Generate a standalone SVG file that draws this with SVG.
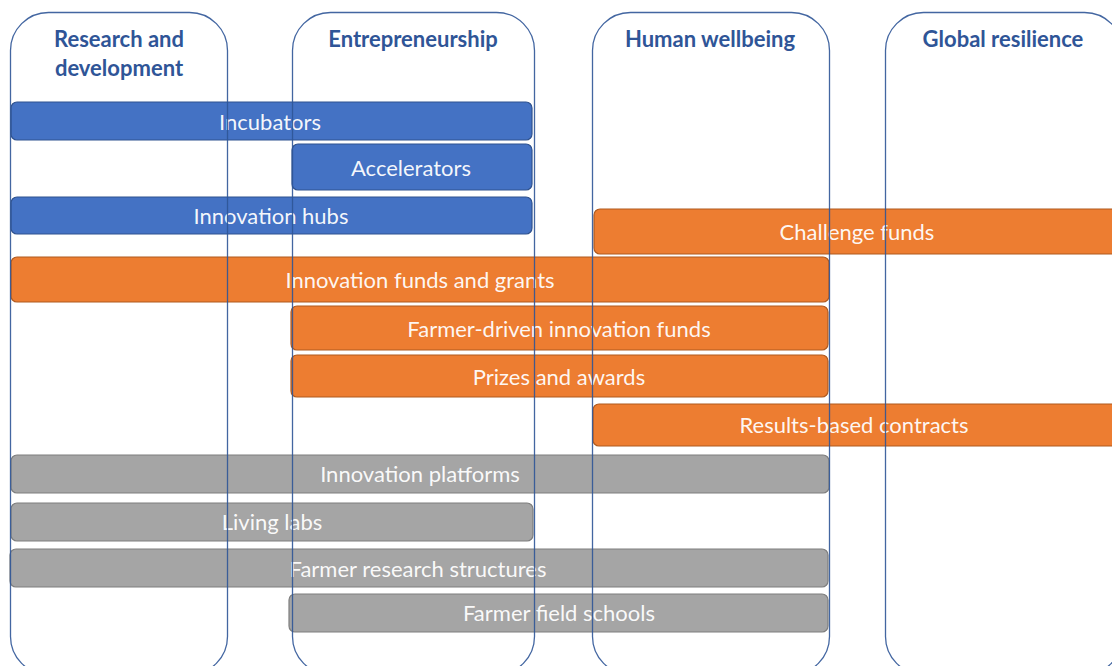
<svg xmlns="http://www.w3.org/2000/svg" width="1112" height="666" viewBox="0 0 1112 666">
<style>
.col{fill:none;stroke:#2F5597;stroke-width:1.3;stroke-opacity:0.9}
.hdr{font-family:Lato,"Liberation Sans",sans-serif;font-weight:bold;font-size:22px;fill:#2F5597;text-anchor:middle}
.bar{stroke-width:1.2}
.blue{fill:#4472C4;stroke:#2F528F}
.orange{fill:#ED7D31;stroke:#B05A1F}
.gray{fill:#A5A5A5;stroke:#7E7E7E}
.lbl{font-family:Lato,"Liberation Sans",sans-serif;font-size:22px;fill:#FFFFFF;fill-opacity:0.95;text-anchor:middle;dominant-baseline:central}
</style>
<rect width="1112" height="666" fill="#FFFFFF"/>
<g id="bars">
<g id="incubators"><rect class="bar blue" x="11" y="102" width="521" height="38" rx="6"/><text class="lbl" x="270" y="121">Incubators</text></g>
<g id="accelerators"><rect class="bar blue" x="292" y="144" width="240" height="46" rx="6"/><text class="lbl" x="411" y="167">Accelerators</text></g>
<g id="innovation-hubs"><rect class="bar blue" x="11" y="197" width="521" height="37" rx="6"/><text class="lbl" x="271" y="215">Innovation hubs</text></g>
<g id="challenge-funds"><rect class="bar orange" x="594" y="209" width="530" height="45" rx="6"/><text class="lbl" x="857" y="231">Challenge funds</text></g>
<g id="innovation-funds"><rect class="bar orange" x="11" y="257" width="818" height="45" rx="6"/><text class="lbl" x="420" y="279">Innovation funds and grants</text></g>
<g id="farmer-driven"><rect class="bar orange" x="291" y="306" width="537" height="44" rx="6"/><text class="lbl" x="559" y="328">Farmer-driven innovation funds</text></g>
<g id="prizes"><rect class="bar orange" x="291" y="355" width="537" height="42" rx="6"/><text class="lbl" x="559" y="376">Prizes and awards</text></g>
<g id="results-based"><rect class="bar orange" x="593" y="404" width="530" height="42" rx="6"/><text class="lbl" x="854" y="424">Results-based contracts</text></g>
<g id="innovation-platforms"><rect class="bar gray" x="11" y="455" width="818" height="38" rx="6"/><text class="lbl" x="420" y="473">Innovation platforms</text></g>
<g id="living-labs"><rect class="bar gray" x="11" y="503" width="522" height="38" rx="6"/><text class="lbl" x="272" y="521">Living labs</text></g>
<g id="farmer-research"><rect class="bar gray" x="10" y="549" width="818" height="38" rx="6"/><text class="lbl" x="418" y="568">Farmer research structures</text></g>
<g id="farmer-field-schools"><rect class="bar gray" x="289" y="594" width="539" height="38" rx="6"/><text class="lbl" x="559" y="612">Farmer field schools</text></g>
</g>
<g id="columns">
<g id="col-rd"><rect class="col" x="10.5" y="12.5" width="217" height="662" rx="38"/><text class="hdr" x="119" y="47">Research and</text><text class="hdr" x="119" y="76">development</text></g>
<g id="col-entrepreneurship"><rect class="col" x="292.5" y="12.5" width="242" height="662" rx="38"/><text class="hdr" x="413" y="47">Entrepreneurship</text></g>
<g id="col-wellbeing"><rect class="col" x="592.5" y="12.5" width="237" height="662" rx="38"/><text class="hdr" x="710" y="47">Human wellbeing</text></g>
<g id="col-resilience"><rect class="col" x="885.5" y="12.5" width="237" height="662" rx="38"/><text class="hdr" x="1003" y="47">Global resilience</text></g>
</g>
</svg>
